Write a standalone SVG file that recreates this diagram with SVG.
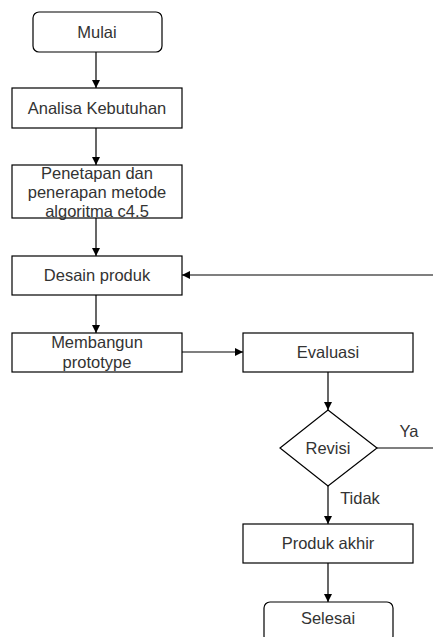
<svg xmlns="http://www.w3.org/2000/svg" width="433" height="637" viewBox="0 0 433 637">
<style>
.box{fill:#fff;stroke:#000;stroke-width:1.2}
.t{font-family:"Liberation Sans",Arial,sans-serif;font-size:16.5px;fill:#333;text-anchor:middle}
.c{fill:none;stroke:#000;stroke-width:1.2}
</style>
<defs>
<marker id="a" viewBox="0 0 10 10" refX="10" refY="5" markerWidth="8" markerHeight="8" markerUnits="userSpaceOnUse" orient="auto">
<path d="M0,0 L10,5 L0,10 z" fill="#000"/>
</marker>
</defs>
<rect width="433" height="637" fill="#fff"/>
<g id="connectors">
<path class="c" d="M96,52 V88" marker-end="url(#a)"/>
<path class="c" d="M96,128 V165" marker-end="url(#a)"/>
<path class="c" d="M96,218 V256" marker-end="url(#a)"/>
<path class="c" d="M96,295 V333" marker-end="url(#a)"/>
<path class="c" d="M433,275 H182" marker-end="url(#a)"/>
<path class="c" d="M182,352 H243" marker-end="url(#a)"/>
<path class="c" d="M328,372 V410" marker-end="url(#a)"/>
<path class="c" d="M377,448 H433"/>
<path class="c" d="M328,486 V524" marker-end="url(#a)"/>
<path class="c" d="M328,563 V602" marker-end="url(#a)"/>
<text class="t" x="409" y="437">Ya</text>
<text class="t" x="360" y="504">Tidak</text>
</g>
<g id="mulai">
<rect class="box" x="33" y="12" width="129" height="40" rx="6"/>
<text class="t" x="97" y="38">Mulai</text>
</g>
<g id="analisa">
<rect class="box" x="12" y="88" width="170" height="40"/>
<text class="t" x="97" y="114">Analisa Kebutuhan</text>
</g>
<g id="penetapan">
<rect class="box" x="12" y="165" width="170" height="53"/>
<text class="t" x="97" y="179">Penetapan dan</text>
<text class="t" x="97" y="198">penerapan metode</text>
<text class="t" x="97" y="217">algoritma c4.5</text>
</g>
<g id="desain">
<rect class="box" x="12" y="256" width="170" height="39"/>
<text class="t" x="97" y="281">Desain produk</text>
</g>
<g id="membangun">
<rect class="box" x="12" y="333" width="170" height="39"/>
<text class="t" x="97" y="348">Membangun</text>
<text class="t" x="97" y="368">prototype</text>
</g>
<g id="evaluasi">
<rect class="box" x="243" y="333" width="170" height="39"/>
<text class="t" x="328" y="358">Evaluasi</text>
</g>
<g id="revisi">
<polygon class="box" points="328,410 377,448 328,486 280,448"/>
<text class="t" x="328" y="454">Revisi</text>
</g>
<g id="produk">
<rect class="box" x="243" y="524" width="170" height="39"/>
<text class="t" x="328" y="549">Produk akhir</text>
</g>
<g id="selesai">
<rect class="box" x="264" y="602" width="129" height="40" rx="6"/>
<text class="t" x="328" y="624">Selesai</text>
</g>
</svg>
